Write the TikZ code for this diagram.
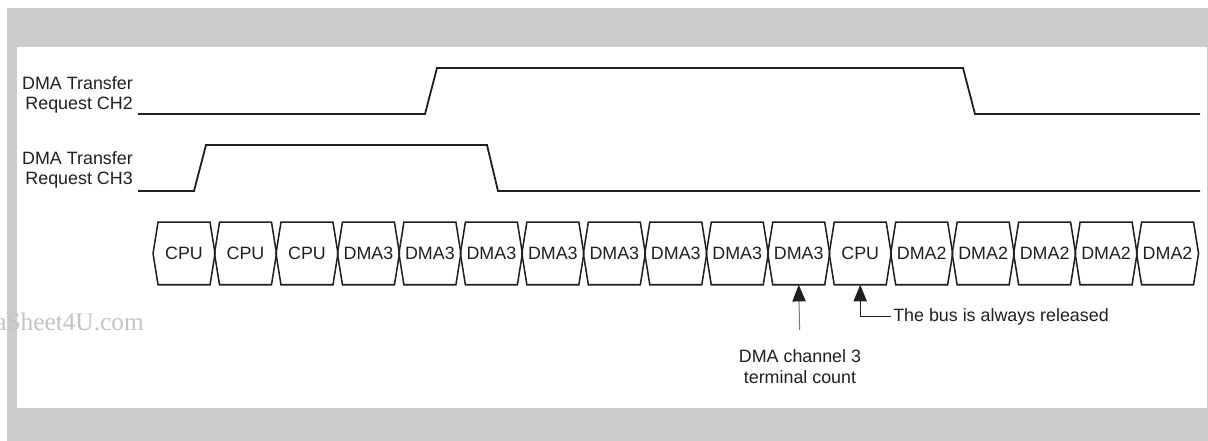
\documentclass[tikz,border=0pt]{standalone}
\usepackage{fontspec}
\setmainfont{Liberation Sans}
\newfontfamily\markfont{Liberation Serif}
\usetikzlibrary{arrows.meta}
\definecolor{framegray}{RGB}{204,204,204}
\definecolor{markgray}{RGB}{196,196,196}
\definecolor{inkblack}{RGB}{35,31,32}
\definecolor{leadgray}{RGB}{120,120,120}
\tikzset{
  signal/.style={color=inkblack, line width=1.35pt, line join=miter},
  buscell/.style={minimum width=46.1pt, minimum height=46.5pt, inner sep=0pt},
  busline/.style={color=inkblack, line width=1.15pt, line join=miter},
  headtip/.style={-{Triangle[length=12.5pt,width=10pt,color=inkblack]}},
  lbl/.style={font=\fontsize{13.4}{15.5}\selectfont, text=inkblack}
}
\begin{document}
\begin{tikzpicture}[x=0.75pt,y=0.75pt,yscale=-1,xscale=1]
\useasboundingbox (0,0) rectangle (1208,441);
% frame
\fill [framegray] (7,8) rectangle (1208,441);
\fill [white] (17,47) rectangle (1207,408);
\draw (-5,331) node [anchor=base west][inner sep=0pt][text=markgray][font=\markfont\fontsize{19}{22}\selectfont] (mark) {aSheet4U.com};
% request lines
\draw (133,95) node [anchor=east][inner sep=0pt][align=right][lbl] (ch2label) {DMA Transfer\\Request CH2};
\draw (133,170) node [anchor=east][inner sep=0pt][align=right][lbl] (ch3label) {DMA Transfer\\Request CH3};
\draw [signal] (138,114) -- (425,114) -- (437,68) -- (963,68) -- (975,114) -- (1200,114);
\draw [signal] (138,191) -- (194,191) -- (206,145) -- (487,145) -- (498,191) -- (1200,191);
% bus cycles
\foreach \cyc [count=\i] in {CPU,CPU,CPU,DMA3,DMA3,DMA3,DMA3,DMA3,DMA3,DMA3,DMA3,CPU,DMA2,DMA2,DMA2,DMA2,DMA2} {
  \draw (122.565+61.47*\i,253.5) node [buscell][lbl] (c\i) {\cyc};
  \draw [busline] ([xshift=3.75pt]c\i.north west) -- ([xshift=-3.75pt]c\i.north east) -- (c\i.east) -- ([xshift=-3.75pt]c\i.south east) -- ([xshift=3.75pt]c\i.south west) -- (c\i.west) -- cycle;
}
% notes
\draw (800,349.5) node [anchor=north][inner sep=0pt][align=center][lbl] (tc) {DMA channel 3\\terminal count};
\draw [color=leadgray][line width=0.75pt][headtip][shorten <=14.6pt] (tc.north) -- (c11.south);
\draw (891,316.5) node [anchor=west][inner sep=1.5pt][lbl] (bus) {The bus is always released};
\draw [color=inkblack][line width=0.75pt][headtip] (bus.west) -| (c12.south);
\end{tikzpicture}
\end{document}
